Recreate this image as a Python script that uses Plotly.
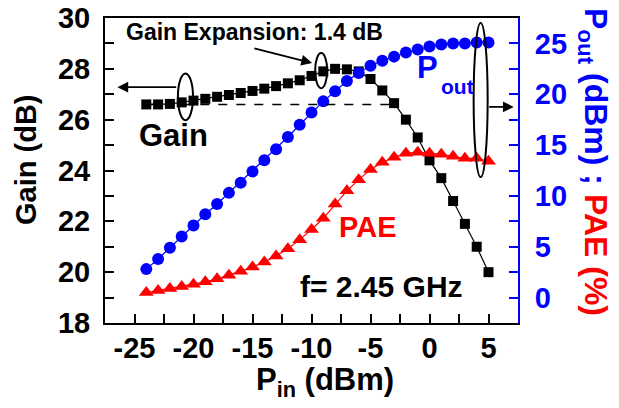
import plotly.graph_objects as go

pin = [-24, -23, -22, -21, -20, -19, -18, -17, -16, -15, -14, -13, -12, -11, -10,
       -9, -8, -7, -6, -5, -4, -3, -2, -1, 0, 1, 2, 3, 4, 5]
gain = [26.6, 26.6, 26.62, 26.68, 26.75, 26.82, 26.9, 26.97, 27.05, 27.13, 27.22, 27.32,
        27.43, 27.55, 27.72, 27.9, 28.0, 27.98, 27.9, 27.6, 27.15, 26.65, 26.0, 25.3,
        24.4, 23.7, 22.8, 21.9, 21.0, 20.0]
pout = [2.8, 3.8, 4.9, 6.0, 7.1, 8.2, 9.2, 10.3, 11.3, 12.4, 13.5, 14.6, 15.8, 17.0,
        18.2, 19.3, 20.3, 21.3, 22.1, 22.8, 23.3, 23.7, 24.1, 24.4, 24.7, 24.9, 25.0,
        25.0, 25.1, 25.1]
pae = [0.5, 0.7, 0.9, 1.1, 1.3, 1.55, 1.85, 2.2, 2.6, 3.0, 3.5, 4.1, 4.8, 5.7, 6.7,
       7.8, 9.2, 10.5, 11.6, 12.6, 13.3, 13.8, 14.2, 14.3, 14.2, 14.1, 13.9, 13.7,
       13.7, 13.4]

x_tickvals = [-25, -20, -15, -10, -5, 0, 5]
x_ticktext = ["-25", "-20", "-15", "-10", "-5", "0", "5"]
y_tickvals = [18, 20, 22, 24, 26, 28, 30]
y2_tickvals = [0, 5, 10, 15, 20, 25]

FONT = "Liberation Sans"
BLUE = "#0000ff"
RED = "#ff0000"

fig = go.Figure()
fig.add_trace(go.Scatter(x=pin, y=gain, mode="lines+markers",
                         line=dict(color="black", width=1.2),
                         marker=dict(symbol="square", size=10, color="black"),
                         yaxis="y"))
fig.add_trace(go.Scatter(x=pin, y=pout, mode="lines+markers",
                         line=dict(color=BLUE, width=1.2),
                         marker=dict(symbol="circle", size=12, color=BLUE),
                         yaxis="y2"))
fig.add_trace(go.Scatter(x=pin, y=pae, mode="lines+markers",
                         line=dict(color=RED, width=1.2),
                         marker=dict(symbol="triangle-up", size=13, color=RED),
                         yaxis="y2"))

tickfont = dict(family=FONT, size=29, weight="bold", color="black")

# the page body adds an 8 px offset, so margins are shifted to compensate
fig.update_layout(
    width=619, height=408,
    margin=dict(l=97, r=109, t=10, b=93),
    paper_bgcolor="white", plot_bgcolor="white",
    showlegend=False,
    xaxis=dict(range=[-27.5, 7.5], tickvals=x_tickvals, ticktext=x_ticktext,
               ticks="inside", ticklen=9, automargin=False, ticklabeloverflow="allow",
               tickwidth=2, tickcolor="black", showline=True, linewidth=2,
               linecolor="black", mirror=True, showgrid=False, zeroline=False,
               tickfont=tickfont, ticklabelstandoff=-2,
               minor=dict(dtick=2.5, tick0=0, ticks="inside", ticklen=9,
                          tickwidth=2, tickcolor="black", showgrid=False)),
    yaxis=dict(range=[18, 30], tickvals=y_tickvals, ticks="inside", ticklen=9,
               tickwidth=2, tickcolor="black", showline=True, linewidth=2,
               linecolor="black", showgrid=False, zeroline=False, automargin=False,
               ticklabeloverflow="allow",
               tickfont=tickfont, ticklabelstandoff=7,
               minor=dict(dtick=1, ticks="inside", ticklen=9, tickwidth=2,
                          tickcolor="black", showgrid=False)),
    yaxis2=dict(range=[-2.5, 27.5], tickvals=y2_tickvals, overlaying="y", side="right",
                ticks="inside", ticklen=9, tickwidth=2, tickcolor=BLUE, automargin=False,
                ticklabeloverflow="allow",
                showline=True, linewidth=2, linecolor=BLUE, showgrid=False,
                zeroline=False, tickfont=dict(family=FONT, size=29, weight="bold", color=BLUE),
                ticklabelstandoff=9,
                minor=dict(dtick=2.5, tick0=0, ticks="inside", ticklen=9, tickwidth=2,
                           tickcolor=BLUE, showgrid=False)),
)

def txt(text, x, y, size, color="black", xanchor="center", yanchor="middle",
        xref="x", yref="y", angle=0):
    fig.add_annotation(text=text, x=x, y=y, xref=xref, yref=yref, showarrow=False,
                       xanchor=xanchor, yanchor=yanchor, textangle=angle,
                       font=dict(family=FONT, size=size, color=color, weight="bold"))

# axis titles
txt("Gain (dB)", (26 - 105) / 413, (323 - 160) / 305, 29, xref="paper", yref="paper", angle=-90)
txt("P<sub>in</sub> (dBm)", (325 - 105) / 413, (323 - 382) / 305, 31, xref="paper", yref="paper")
txt("P<sub>out</sub> (dBm) ; <span style='color:#ff0000'>PAE (%)</span>",
    (594 - 105) / 413, (323 - 162) / 305, 32, color=BLUE, xref="paper", yref="paper", angle=90)

# in-plot texts
txt("Gain Expansion: 1.4 dB", -25.85, 29.45, 23, xanchor="left")
txt("Gain", -21.68, 25.39, 31)
txt("P", -0.17, 28.07, 31, color=BLUE)
txt("out", 0.77, 27.32, 21, color=BLUE, xanchor="left")
txt("PAE", -5.27, 21.77, 29, color=RED)
txt("f= 2.45 GHz", -4.08, 19.45, 30)

# ellipses
for x0, x1, y0, y1 in [(-21.32, -20.04, 25.98, 27.82),
                       (-9.69, -8.67, 27.24, 28.62),
                       (3.74, 4.93, 23.74, 29.8)]:
    fig.add_shape(type="circle", xref="x", yref="y", x0=x0, x1=x1, y0=y0, y1=y1,
                  line=dict(color="black", width=2))

# dashed reference line
fig.add_shape(type="line", xref="x", yref="y", x0=-24, x1=-3, y0=26.6, y1=26.6,
              line=dict(color="black", width=1.5, dash="dash"))

# arrows
for (ax, ay, x, y) in [(-21.34, 27.28, -26.45, 27.28),
                       (-14.97, 28.82, -9.95, 28.23),
                       (4.93, 26.5, 7.14, 26.5)]:
    fig.add_annotation(x=x, y=y, ax=ax, ay=ay, xref="x", yref="y", axref="x", ayref="y",
                       showarrow=True, arrowhead=2, arrowsize=1.2, arrowwidth=1.8,
                       arrowcolor="black", text="")

fig.write_html("out.html")
